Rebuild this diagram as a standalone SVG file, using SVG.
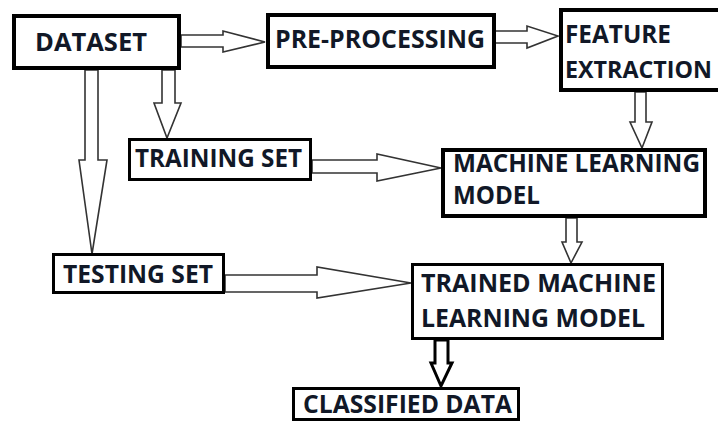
<svg xmlns="http://www.w3.org/2000/svg" width="718" height="421" viewBox="0 0 718 421">
<style>
.box{fill:#fff;stroke:#000;}
.b4{stroke-width:4;}
.b3{stroke-width:3;}
.t{font-family:"Open Sans","DejaVu Sans",sans-serif;font-weight:bold;font-size:25px;fill:#111827;}
.arr{fill:#fff;stroke:#333;stroke-width:1.6;stroke-linejoin:miter;}
.arrk{fill:#fff;stroke:#000;stroke-width:3;stroke-linejoin:miter;}
</style>
<rect width="718" height="421" fill="#fff"/>
<g id="connectors">
<polygon class="arr" points="181,35 223,35 223,31 265,42 223,52 223,47 181,47"/>
<polygon class="arr" points="495,31 527,31 527,26 558,36 527,48 527,43 495,43"/>
<polygon class="arr" points="635,92 635,122 630,122 642,148 652,122 646,122 646,92"/>
<polygon class="arr" points="162,70 162,103 154,103 167,138 181,103 175,103 175,70"/>
<polygon class="arr" points="85,70 85,160 79,160 92,254 107,160 98,160 98,70"/>
<polygon class="arr" points="312,160 377,160 377,154 441,168 377,181 377,173 312,173"/>
<polygon class="arr" points="225,275 317,275 317,267 411,283 317,298 317,292 225,292"/>
<polygon class="arr" points="566,218 566,242 562,242 571,263 582,242 577,242 577,218"/>
<polygon class="arrk" points="435,340 435,363 431,363 441,386 452,363 448,363 448,340"/>
</g>
<g id="dataset">
<rect class="box b4" x="14" y="16" width="165" height="52"/>
<text class="t" x="35" y="51" textLength="112" lengthAdjust="spacingAndGlyphs">DATASET</text>
</g>
<g id="preprocessing">
<rect class="box b4" x="268" y="15" width="226" height="52"/>
<text class="t" x="275" y="48" textLength="210" lengthAdjust="spacingAndGlyphs">PRE-PROCESSING</text>
</g>
<g id="feature-extraction">
<rect class="box b4" x="561" y="10" width="170" height="80"/>
<text class="t" x="565" y="43" textLength="106" lengthAdjust="spacingAndGlyphs">FEATURE</text>
<text class="t" x="565" y="78" style="font-size:23px" textLength="147" lengthAdjust="spacingAndGlyphs">EXTRACTION</text>
</g>
<g id="training-set">
<rect class="box b3" x="129.5" y="139.5" width="181" height="40"/>
<text class="t" x="135" y="167" textLength="167" lengthAdjust="spacingAndGlyphs">TRAINING SET</text>
</g>
<g id="ml-model">
<rect class="box b4" x="443" y="150" width="262" height="66"/>
<text class="t" x="453" y="172" textLength="247" lengthAdjust="spacingAndGlyphs">MACHINE LEARNING</text>
<text class="t" x="453" y="204" textLength="87" lengthAdjust="spacingAndGlyphs">MODEL</text>
</g>
<g id="testing-set">
<rect class="box b3" x="53.5" y="254.5" width="170" height="38"/>
<text class="t" x="63" y="283" textLength="150" lengthAdjust="spacingAndGlyphs">TESTING SET</text>
</g>
<g id="trained-model">
<rect class="box b3" x="412.5" y="264.5" width="250" height="74"/>
<text class="t" x="421" y="292" textLength="235" lengthAdjust="spacingAndGlyphs">TRAINED MACHINE</text>
<text class="t" x="421" y="327" textLength="224" lengthAdjust="spacingAndGlyphs">LEARNING MODEL</text>
</g>
<g id="classified-data">
<rect class="box b3" x="293.5" y="388.5" width="225" height="31"/>
<text class="t" x="303" y="413" textLength="209" lengthAdjust="spacingAndGlyphs">CLASSIFIED DATA</text>
</g>
</svg>
